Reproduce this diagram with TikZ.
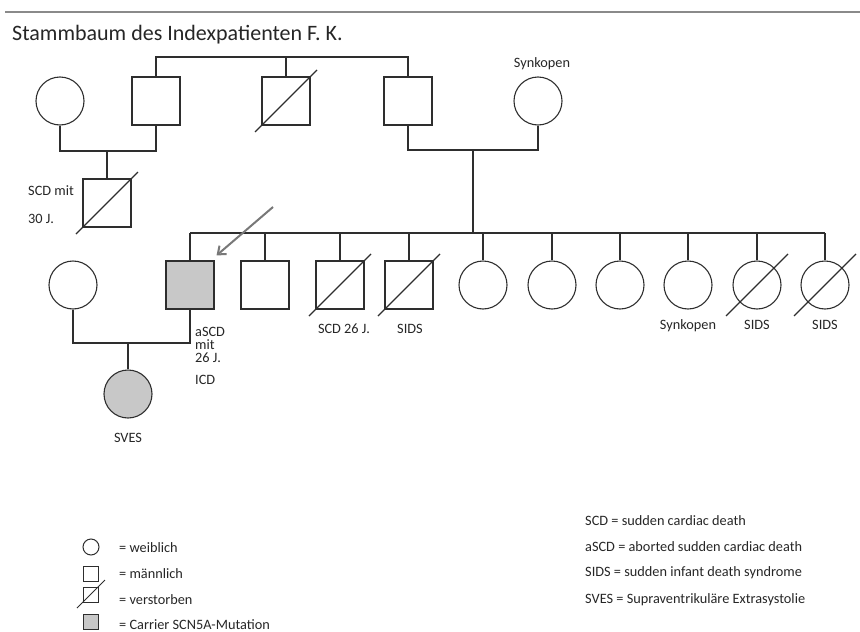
\documentclass[tikz,border=0pt]{standalone}
\usepackage{fontspec}
\setmainfont{Carlito}
\usetikzlibrary{arrows.meta}
\definecolor{linegray}{HTML}{2E2E2E}
\definecolor{carriergray}{HTML}{C8C8C8}
\definecolor{arrowgray}{HTML}{787878}
\definecolor{rulegray}{HTML}{8A8A8A}
\tikzset{
  female/.style={circle,draw=linegray,line width=1.1pt,minimum size=48pt,inner sep=0pt},
  male/.style={rectangle,draw=linegray,line width=1.1pt,minimum size=48pt,inner sep=0pt},
  carrier/.style={fill=carriergray},
  tie/.style={draw=linegray,line width=1.1pt},
  lbl/.style={text=black!85,inner sep=0pt,font=\fontsize{14.3}{13}\selectfont}
}

\begin{document}
\begin{tikzpicture}[x=1pt,y=-1pt]
        \useasboundingbox (0,0) rectangle (860,632);
        \draw[line width=2pt,draw=rulegray] (5,12) -- (860,12);
        \node[anchor=base west,text=black!85,inner sep=0pt,font=\fontsize{22}{26}\selectfont] (title) at (12,40) {Stammbaum des Indexpatienten F. K.};
        % generation I
        \node[female] (w1) at (60,101) {};
        \node[male] (m2) at (156,101) {};
        \node[male] (m3) at (286,101) {};
        \node[male] (m4) at (408,101) {};
        \node[female] (w5) at (538,101) {};
        \node[lbl] (t5) at (542,64) {Synkopen};
        \coordinate (top) at (286,57);
        \draw[tie] (m2.north) |- (top) -| (m4.north);
        \draw[tie] (top) -- (m3.north);
        \coordinate (mar1) at (107,151);
        \draw[tie] (w1.south) |- (mar1) -| (m2.south);
        \coordinate (mar2) at (473,150);
        \draw[tie] (m4.south) |- (mar2) -| (w5.south);
        % generation II
        \node[male] (s1) at (107,203) {};
        \draw[tie] (mar1) -- (s1.north);
        \node[lbl,anchor=west] (t1) at (28,191) {SCD mit};
        \node[lbl,anchor=west] (t1b) at (28,219) {30 J.};
        \coordinate (bar) at (473,233);
        \draw[tie] (mar2) -- (bar);
        % generation III
        \node[male,carrier] (k1) at (190,285) {};
        \node[male] (k2) at (265,285) {};
        \node[male] (k3) at (340,285) {};
        \node[male] (k4) at (409,285) {};
        \node[female] (k5) at (483,285) {};
        \node[female] (k6) at (552,285) {};
        \node[female] (k7) at (620,285) {};
        \node[female] (k8) at (688,285) {};
        \node[female] (k9) at (757,285) {};
        \node[female] (k10) at (825,285) {};
        \draw[tie] (k1.north |- bar) -- (k10.north |- bar);
        \foreach \n in {1,...,10}
          \draw[tie] (k\n.north |- bar) -- (k\n.north);
        \node[lbl] (t3) at (344,329) {SCD 26 J.};
        \node[lbl] (t4) at (410,329) {SIDS};
        \node[lbl] (t8) at (688,326) {Synkopen};
        \node[lbl] (t9) at (757,325) {SIDS};
        \node[lbl] (t10) at (825,325) {SIDS};
        \node[lbl,anchor=north west,align=left] (idx) at (195,327) {aSCD\\mit\\26 J.};
        \node[lbl,anchor=west] (icd) at (195,380) {ICD};
        \coordinate (tail) at (273,207);
        \draw[draw=arrowgray,line width=2pt,-{Straight Barb[length=7pt,width=11pt]}] (tail) -- ([shift={(2,-5)}]k1.north east);
        \node[female] (w6) at (73,285) {};
        \coordinate (mar3) at (128,343);
        \draw[tie] (w6.south) |- (mar3) -| (k1.south);
        \node[female,carrier] (d1) at (128,394) {};
        \draw[tie] (mar3) -- (d1.north);
        \node[lbl] (t6) at (128,438) {SVES};
        % deceased
        \foreach \n in {m3,s1,k3,k4,k9,k10}
          \draw[tie] ([shift={(-31,31)}]\n.center) -- ([shift={(31,-31)}]\n.center);
        % legend
        \node[circle,draw=linegray,line width=1pt,minimum size=16pt,inner sep=0pt] (l1) at (91,547) {};
        \node[rectangle,draw=linegray,line width=1pt,minimum size=15pt,inner sep=0pt] (l2) at (91,574) {};
        \node[rectangle,draw=linegray,line width=1pt,minimum size=15pt,inner sep=0pt] (l3) at (91,595) {};
        \draw[tie,line width=1pt] ([shift={(-14,13)}]l3.center) -- ([shift={(14,-15)}]l3.center);
        \node[rectangle,draw=linegray,line width=1pt,minimum size=15pt,inner sep=0pt,carrier] (l4) at (91,622) {};
        \node[lbl,anchor=west] (e1) at (119,548) {= weiblich};
        \node[lbl,anchor=west] (e2) at (119,574) {= männlich};
        \node[lbl,anchor=west] (e3) at (119,600) {= verstorben};
        \node[lbl,anchor=west] (e4) at (119,625) {= Carrier SCN5A-Mutation};
        \node[lbl,anchor=west] (a1) at (585,521) {SCD = sudden cardiac death};
        \node[lbl,anchor=west] (a2) at (585,547) {aSCD = aborted sudden cardiac death};
        \node[lbl,anchor=west] (a3) at (585,573) {SIDS = sudden infant death syndrome};
        \node[lbl,anchor=west] (a4) at (585,600) {SVES = Supraventrikuläre Extrasystolie};
\end{tikzpicture}
\end{document}
